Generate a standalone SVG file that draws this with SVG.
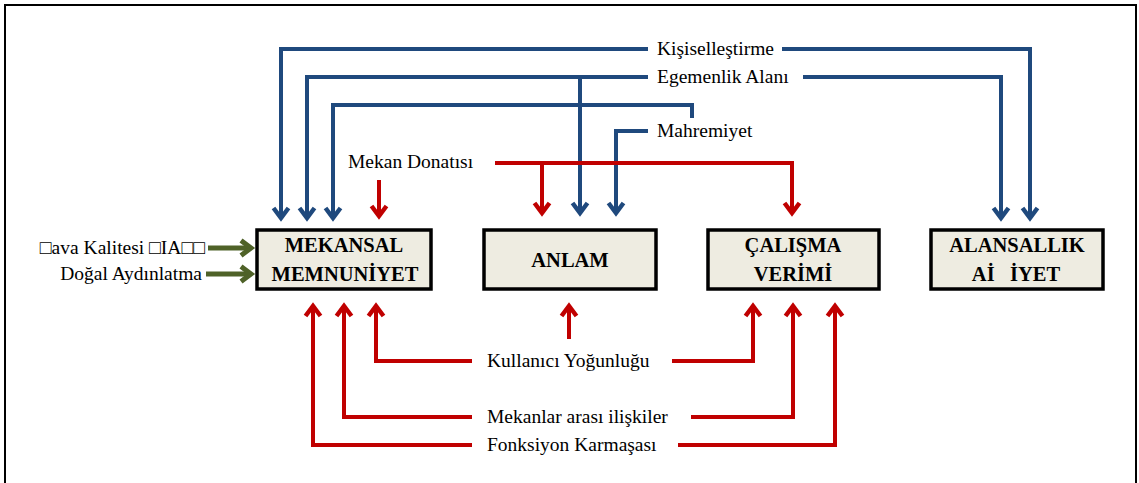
<svg xmlns="http://www.w3.org/2000/svg" width="1139" height="483" viewBox="0 0 1139 483">
<style>
.lbl{font-size:19.5px;fill:#000}
.box rect{fill:#EEECE1;stroke:#000;stroke-width:3.5}
.box text{font-size:20.5px;font-weight:bold;fill:#000;text-anchor:middle}
.b{fill:none;stroke:#1F497D;stroke-width:4;marker-end:url(#mb)}
.r{fill:none;stroke:#C00000;stroke-width:4;marker-end:url(#mr)}
.rn{fill:none;stroke:#C00000;stroke-width:4}
.g{fill:none;stroke:#4F6228;stroke-width:5;marker-end:url(#mg)}
</style>
<defs>
<marker id="mb" markerUnits="userSpaceOnUse" markerWidth="30" markerHeight="30" viewBox="-15 -15 30 30" refX="0" refY="0" orient="auto" overflow="visible"><path d="M-10,-7.5 L0,0 L-10,7.5" fill="none" stroke="#1F497D" stroke-width="4.5"/></marker>
<marker id="mr" markerUnits="userSpaceOnUse" markerWidth="30" markerHeight="30" viewBox="-15 -15 30 30" refX="0" refY="0" orient="auto" overflow="visible"><path d="M-10,-7.5 L0,0 L-10,7.5" fill="none" stroke="#C00000" stroke-width="4.5"/></marker>
<marker id="mg" markerUnits="userSpaceOnUse" markerWidth="30" markerHeight="30" viewBox="-15 -15 30 30" refX="0" refY="0" orient="auto" overflow="visible"><path d="M-10,-7.5 L0,0 L-10,7.5" fill="none" stroke="#4F6228" stroke-width="5"/></marker>
</defs>
<rect width="1139" height="483" fill="#fff"/>
<path d="M5,483 V5 H1136 V483" fill="none" stroke="#000" stroke-width="2"/>

<g id="connectors">
<path class="b" d="M648,49 H281 V218"/>
<path class="b" d="M782,49 H1030 V218"/>
<path class="b" d="M648,77 H307 V218"/>
<path class="b" d="M580,77 V213"/>
<path class="b" d="M803,77 H1001 V218"/>
<path class="b" d="M692,118 V105 H333 V218"/>
<path class="b" d="M648,131 H616 V213"/>
<path class="r" d="M379,180 V216"/>
<path class="rn" d="M495,163 H792 V213"/>
<path class="r" d="M542,163 V213"/>
<path class="r" d="M792,163 V213"/>
<path class="r" d="M472,361 H376 V306"/>
<path class="r" d="M569,339 V306"/>
<path class="r" d="M672,361 H753 V306"/>
<path class="r" d="M472,417 H344 V306"/>
<path class="r" d="M691,417 H793 V306"/>
<path class="r" d="M472,445 H313 V306"/>
<path class="r" d="M678,445 H835 V306"/>
<path class="g" d="M208,248 H251"/>
<path class="g" d="M206,274 H251"/>
</g>

<g font-family="Liberation Serif, serif">
<g id="box-mekansal" class="box"><rect x="257" y="230" width="174" height="59"/><text x="344" y="252">MEKANSAL</text><text x="345" y="281">MEMNUNİYET</text></g>
<g id="box-anlam" class="box"><rect x="484" y="230" width="172" height="59"/><text x="570" y="267">ANLAM</text></g>
<g id="box-calisma" class="box"><rect x="708" y="230" width="171" height="59"/><text x="793" y="252">ÇALIŞMA</text><text x="793" y="281">VERİMİ</text></g>
<g id="box-alansallik" class="box"><rect x="931" y="230" width="172" height="59"/><text x="1017" y="252">ALANSALLIK</text><text x="1016" y="281" xml:space="preserve">Aİ   İYET</text></g>

<g id="labels">
<text class="lbl" x="657" y="55">Kişiselleştirme</text>
<text class="lbl" x="657" y="83">Egemenlik Alanı</text>
<text class="lbl" x="657" y="137">Mahremiyet</text>
<text class="lbl" x="348" y="168">Mekan Donatısı</text>
<text class="lbl" x="205" y="254" text-anchor="end">□ava Kalitesi □IA□□</text>
<text class="lbl" x="202" y="280" text-anchor="end">Doğal Aydınlatma</text>
<text class="lbl" x="487" y="367">Kullanıcı Yoğunluğu</text>
<text class="lbl" x="487" y="423">Mekanlar arası ilişkiler</text>
<text class="lbl" x="487" y="451">Fonksiyon Karmaşası</text>
</g>
</g>
</svg>
